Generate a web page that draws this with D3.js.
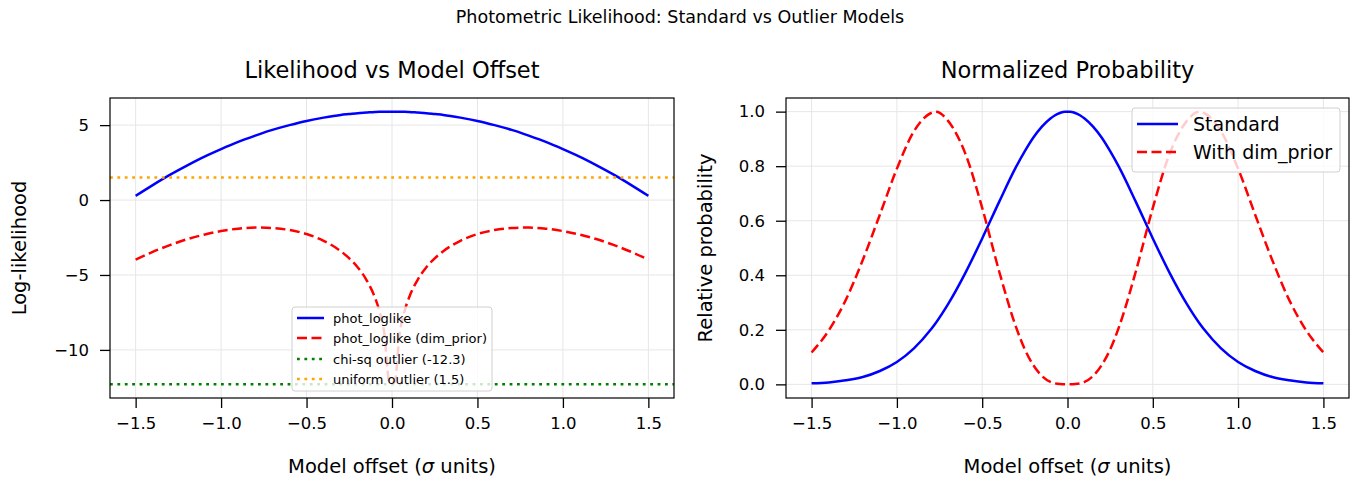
<!DOCTYPE html>
<html>
<head>
<meta charset="utf-8">
<script src="https://cdn.jsdelivr.net/npm/d3@7"></script>
<style>
  body { margin: 0; background: #fff; }
  svg { font-family: "DejaVu Sans", sans-serif; }
</style>
</head>
<body>
<div id="chart"></div>
<script>
// offsets in sigma units
const offsets = [-1.5, -1.4, -1.3, -1.2, -1.1, -1.0, -0.9, -0.8, -0.77, -0.7, -0.6, -0.5, -0.4, -0.3, -0.25, -0.2, -0.15, -0.1, -0.075, -0.045, -0.015,
  0.015, 0.045, 0.075, 0.1, 0.15, 0.2, 0.25, 0.3, 0.4, 0.5, 0.6, 0.7, 0.77, 0.8, 0.9, 1.0, 1.1, 1.2, 1.3, 1.4, 1.5];

const photLoglike = [0.28, 1.00, 1.68, 2.30, 2.88, 3.40, 3.88, 4.30, 4.42, 4.68, 5.00, 5.28, 5.50, 5.68, 5.74, 5.80, 5.84, 5.88, 5.89, 5.89, 5.90,
  5.90, 5.89, 5.89, 5.88, 5.84, 5.80, 5.74, 5.68, 5.50, 5.28, 5.00, 4.68, 4.42, 4.30, 3.88, 3.40, 2.88, 2.30, 1.68, 1.00, 0.28];

const photLoglikeDim = [-3.98, -3.46, -3.01, -2.62, -2.31, -2.07, -1.91, -1.84, -1.84, -1.87, -2.00, -2.27, -2.72, -3.41, -3.89, -4.50, -5.32, -6.50, -7.35, -8.88, -12.17,
  -12.17, -8.88, -7.35, -6.50, -5.32, -4.50, -3.89, -3.41, -2.72, -2.27, -2.00, -1.87, -1.84, -1.84, -1.91, -2.07, -2.31, -2.62, -3.01, -3.46, -3.98];

const probStandard = [0.004, 0.007, 0.015, 0.027, 0.049, 0.082, 0.132, 0.202, 0.227, 0.294, 0.407, 0.535, 0.670, 0.799, 0.855, 0.905, 0.945, 0.975, 0.986, 0.995, 1.000,
  1.000, 0.995, 0.986, 0.975, 0.945, 0.905, 0.855, 0.799, 0.670, 0.535, 0.407, 0.294, 0.227, 0.202, 0.132, 0.082, 0.049, 0.027, 0.015, 0.007, 0.004];

const probDim = [0.117, 0.197, 0.309, 0.456, 0.622, 0.791, 0.928, 0.995, 1.000, 0.966, 0.848, 0.647, 0.413, 0.207, 0.128, 0.070, 0.031, 0.009, 0.004, 0.001, 0.000,
  0.000, 0.001, 0.004, 0.009, 0.031, 0.070, 0.128, 0.207, 0.413, 0.647, 0.848, 0.966, 1.000, 0.995, 0.928, 0.791, 0.622, 0.456, 0.309, 0.197, 0.117];

const chisqOutlier = -12.3;
const uniformOutlier = 1.5;

const xTicks = [-1.5, -1.0, -0.5, 0.0, 0.5, 1.0, 1.5];
const leftYTicks = [-10, -5, 0, 5];
const rightYTicks = [0.0, 0.2, 0.4, 0.6, 0.8, 1.0];

const width = 1359, height = 488;

const svg = d3.select('#chart').append('svg')
  .attr('width', width)
  .attr('height', height);

svg.append('text')
  .attr('x', 680).attr('y', 23)
  .attr('text-anchor', 'middle')
  .attr('font-size', 17.5)
  .text('Photometric Likelihood: Standard vs Outlier Models');

const fmt = d3.format('.1f');

function makePanel(box, yDomain, yTicks, yFmt, title, yLabel, yLabelX) {
  const x = d3.scaleLinear().domain([-1.65, 1.65]).range([box.x0, box.x1]);
  const y = d3.scaleLinear().domain(yDomain).range([box.y1, box.y0]);
  const g = svg.append('g');

  // grid
  g.append('g').selectAll('line').data(xTicks).join('line')
    .attr('x1', d => x(d)).attr('x2', d => x(d))
    .attr('y1', box.y0).attr('y2', box.y1)
    .attr('stroke', '#e6e6e6').attr('stroke-width', 1);
  g.append('g').selectAll('line').data(yTicks).join('line')
    .attr('x1', box.x0).attr('x2', box.x1)
    .attr('y1', d => y(d)).attr('y2', d => y(d))
    .attr('stroke', '#e6e6e6').attr('stroke-width', 1);

  const xAxis = g.append('g')
    .attr('transform', `translate(0,${box.y1})`)
    .call(d3.axisBottom(x).tickValues(xTicks).tickFormat(fmt).tickSize(10).tickPadding(9).tickSizeOuter(0));
  const yAxis = g.append('g')
    .attr('transform', `translate(${box.x0},0)`)
    .call(d3.axisLeft(y).tickValues(yTicks).tickFormat(yFmt).tickSize(10).tickPadding(11).tickSizeOuter(0));
  [xAxis, yAxis].forEach(a => {
    a.select('.domain').remove();
    a.selectAll('.tick line').attr('stroke', '#000').attr('stroke-width', 1.3);
    a.selectAll('.tick text').attr('font-size', 16.5).attr('fill', '#000')
      .attr('font-family', '"DejaVu Sans", sans-serif');
  });

  g.append('text')
    .attr('x', (box.x0 + box.x1) / 2).attr('y', 78)
    .attr('text-anchor', 'middle')
    .attr('font-size', 22.5)
    .text(title);

  const xl = g.append('text')
    .attr('x', (box.x0 + box.x1) / 2).attr('y', 473)
    .attr('text-anchor', 'middle')
    .attr('font-size', 19.5);
  xl.append('tspan').text('Model offset (');
  xl.append('tspan').attr('font-style', 'italic').text('σ');
  xl.append('tspan').text(' units)');

  g.append('text')
    .attr('transform', `translate(${yLabelX},${(box.y0 + box.y1) / 2}) rotate(-90)`)
    .attr('text-anchor', 'middle')
    .attr('dy', '0.35em')
    .attr('font-size', 19.5)
    .text(yLabel);

  const id = 'clip' + box.x0;
  svg.append('clipPath').attr('id', id).append('rect')
    .attr('x', box.x0).attr('y', box.y0)
    .attr('width', box.x1 - box.x0).attr('height', box.y1 - box.y0);
  const plot = g.append('g').attr('clip-path', `url(#${id})`);

  return {x, y, g, plot, box};
}

const left = makePanel({x0: 110, x1: 674, y0: 98, y1: 398}, [-13.21, 6.81], leftYTicks, d3.format('d'),
  'Likelihood vs Model Offset', 'Log-likelihood', 19);

const right = makePanel({x0: 786, x1: 1349, y0: 98, y1: 398}, [-0.05, 1.05], rightYTicks, fmt,
  'Normalized Probability', 'Relative probability', 705);

function curve(panel, values, color, dash) {
  const line = d3.line()
    .x((d, i) => panel.x(offsets[i]))
    .y(d => panel.y(d))
    .curve(d3.curveMonotoneX);
  panel.plot.append('path')
    .datum(values)
    .attr('fill', 'none')
    .attr('stroke', color)
    .attr('stroke-width', 2.5)
    .attr('stroke-dasharray', dash)
    .attr('d', line);
}

function hline(panel, v, color) {
  panel.plot.append('line')
    .attr('x1', panel.box.x0).attr('x2', panel.box.x1)
    .attr('y1', panel.y(v)).attr('y2', panel.y(v))
    .attr('stroke', color).attr('stroke-width', 2.5)
    .attr('stroke-dasharray', '2.8,4.6');
}

curve(left, photLoglike, 'blue', null);
curve(left, photLoglikeDim, 'red', '10,4.5');
hline(left, chisqOutlier, 'green');
hline(left, uniformOutlier, 'orange');

curve(right, probStandard, 'blue', null);
curve(right, probDim, 'red', '10,4.5');

// spines
[left, right].forEach(p => {
  p.g.append('rect')
    .attr('x', p.box.x0).attr('y', p.box.y0)
    .attr('width', p.box.x1 - p.box.x0).attr('height', p.box.y1 - p.box.y0)
    .attr('fill', 'none').attr('stroke', '#000').attr('stroke-width', 1.2);
});

function legend(bx, by, bw, bh, rows, items, fs, handleX, handleW, textX) {
  const lg = svg.append('g');
  lg.append('rect')
    .attr('x', bx).attr('y', by).attr('width', bw).attr('height', bh)
    .attr('rx', 3)
    .attr('fill', 'rgba(255,255,255,0.8)')
    .attr('stroke', '#d0d0d0').attr('stroke-width', 1);
  items.forEach((it, i) => {
    const cy = rows[i];
    lg.append('line')
      .attr('x1', handleX).attr('x2', handleX + handleW)
      .attr('y1', cy).attr('y2', cy)
      .attr('stroke', it.color).attr('stroke-width', 2.5)
      .attr('stroke-dasharray', it.dash);
    lg.append('text')
      .attr('x', textX).attr('y', cy)
      .attr('dy', '0.35em')
      .attr('font-size', fs)
      .text(it.label);
  });
}

const leftItems = [
  {label: 'phot_loglike', color: 'blue', dash: null},
  {label: 'phot_loglike (dim_prior)', color: 'red', dash: '10,4.5'},
  {label: 'chi-sq outlier (' + chisqOutlier + ')', color: 'green', dash: '2.8,4.6'},
  {label: 'uniform outlier (' + uniformOutlier + ')', color: 'orange', dash: '2.8,4.6'}
];
legend(292, 307, 200, 84, [318, 338, 359, 379], leftItems, 13, 297, 27, 333);

const rightItems = [
  {label: 'Standard', color: 'blue', dash: null},
  {label: 'With dim_prior', color: 'red', dash: '10,4.5'}
];
legend(1132, 108, 208, 64, [124, 152], rightItems, 19, 1137, 41, 1193);
</script>
</body>
</html>
